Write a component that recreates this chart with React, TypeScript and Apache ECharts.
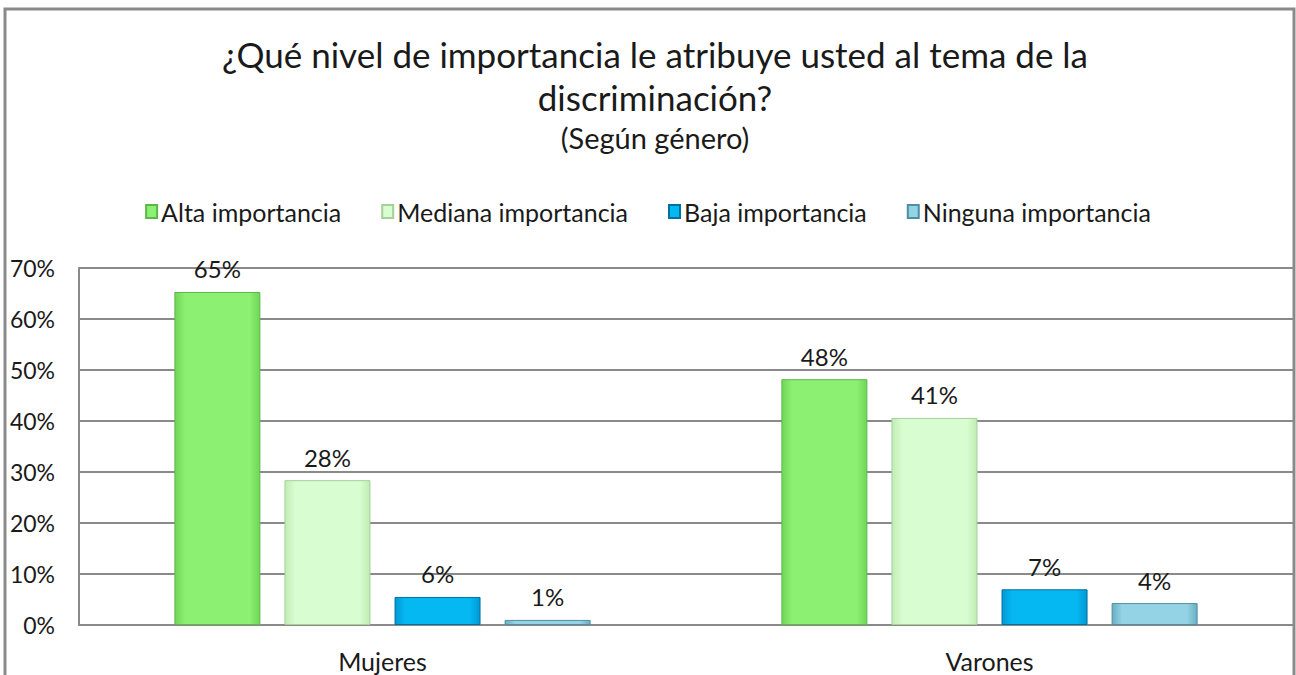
import React, { useEffect, useRef } from "react";
import * as echarts from "echarts";

const categories = ["Mujeres", "Varones"];
const seriesNames = ["Alta importancia", "Mediana importancia", "Baja importancia", "Ninguna importancia"];
const alta = [65.3, 48.2];
const mediana = [28.4, 40.6];
const baja = [5.5, 7.0];
const ninguna = [1.0, 4.3];
const yTicks = [0, 10, 20, 30, 40, 50, 60, 70];

const FONT = "Lato";

const palettes = [
  { mid: "#8cf072", edge: "#6fd657", border: "#5cb848" },
  { mid: "#d8fdd0", edge: "#c0ecb4", border: "#a6cf9a" },
  { mid: "#05b8f2", edge: "#0099d4", border: "#00709e" },
  { mid: "#94d3e5", edge: "#6aaec2", border: "#4f8fa3" },
];

function barColor(p: { mid: string; edge: string }) {
  return new echarts.graphic.LinearGradient(0, 0, 1, 0, [
    { offset: 0, color: p.edge },
    { offset: 0.12, color: p.mid },
    { offset: 0.88, color: p.mid },
    { offset: 1, color: p.edge },
  ]);
}

export default function App() {
  const ref = useRef<HTMLDivElement>(null);
  useEffect(() => {
    document.body.style.margin = "0";
    if (!ref.current) return;
    const chart = echarts.init(ref.current, null, { renderer: "svg" });
    const datasets = [alta, mediana, baja, ninguna];
    chart.setOption({
      animation: false,
      backgroundColor: "#ffffff",
      textStyle: { fontFamily: FONT },
      title: {
        text: "¿Qué nivel de importancia le atribuye usted al tema de la\ndiscriminación?",
        subtext: "(Según género)",
        left: 650,
        textAlign: "center",
        top: 27,
        itemGap: 4,
        textStyle: { fontFamily: FONT, fontSize: 35, fontWeight: "normal", color: "#1a1a1a", lineHeight: 43 },
        subtextStyle: { fontFamily: FONT, fontSize: 29, color: "#1a1a1a", lineHeight: 30 },
      },
      legend: {
        top: 194,
        left: "center",
        itemWidth: 11,
        itemHeight: 13,
        itemGap: 40,
        icon: "rect",
        textStyle: { fontFamily: FONT, fontSize: 25, color: "#1a1a1a", padding: [0, 0, 0, -1] },
        data: seriesNames,
      },
      grid: { left: 79, right: 3, top: 268, bottom: 50, containLabel: false },
      xAxis: {
        type: "category",
        data: categories,
        axisLine: { lineStyle: { color: "#8a8a8a", width: 2 } },
        axisTick: { show: false },
        axisLabel: { fontFamily: FONT, fontSize: 25, color: "#1a1a1a", margin: 23 },
      },
      yAxis: {
        type: "value",
        min: yTicks[0],
        max: yTicks[yTicks.length - 1],
        interval: 10,
        axisLine: { show: true, lineStyle: { color: "#8a8a8a", width: 2 } },
        axisTick: { show: false },
        splitLine: { lineStyle: { color: "#8a8a8a", width: 2 } },
        axisLabel: { fontFamily: FONT, fontSize: 23, color: "#1a1a1a", margin: 24, formatter: "{value}%" },
      },
      graphic: [
        {
          type: "rect",
          shape: { x: 5, y: 9, width: 1289, height: 720 },
          style: { fill: "none", stroke: "#8a8a8a", lineWidth: 3 },
          silent: true,
        },
      ],
      series: seriesNames.map((name, i) => ({
        name,
        type: "bar",
        data: datasets[i],
        barWidth: 86,
        barGap: "28%",
        itemStyle: {
          color: barColor(palettes[i]),
          borderColor: palettes[i].border,
          borderWidth: 1,
        },
        label: {
          show: true,
          position: "top",
          distance: 11,
          fontFamily: FONT,
          fontSize: 24,
          color: "#1a1a1a",
          formatter: (p: any) => Math.round(p.value) + "%",
        },
      })),
    });
    return () => chart.dispose();
  }, []);
  return <div ref={ref} style={{ width: 1296, height: 675 }} />;
}
